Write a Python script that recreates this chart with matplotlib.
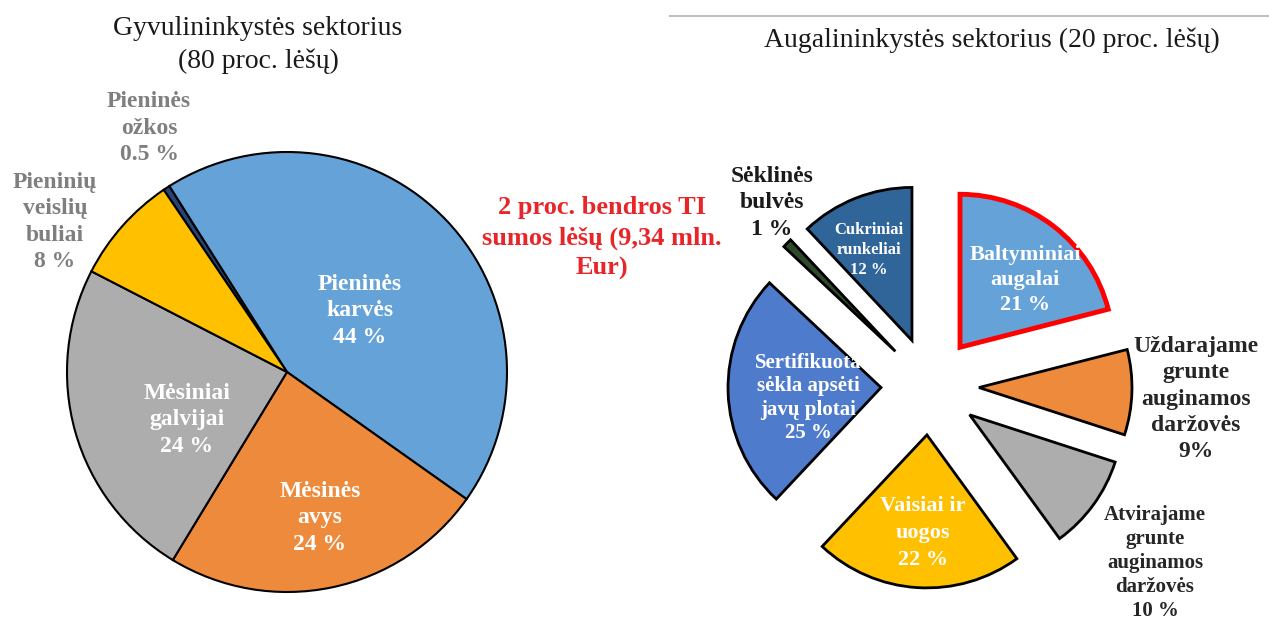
import matplotlib
matplotlib.use("Agg")
import matplotlib.pyplot as plt

# Left pie: livestock sector (80 % of funds)
live_names = ["Pieninės\nožkos", "Pieninės\nkarvės", "Mėsinės\navys",
              "Mėsiniai\ngalvijai", "Pieninių\nveislių\nbuliai"]
live_values = [0.5, 44, 24, 24, 8]
live_colors = ["#264478", "#65A2D8", "#EE8A3C", "#ADADAD", "#FFC000"]

# Right pie: crop sector (20 % of funds)
crop_names = ["Baltyminiai\naugalai", "Uždarajame\ngrunte\nauginamos\ndaržovės",
              "Atvirajame\ngrunte\nauginamos\ndaržovės", "Vaisiai ir\nuogos",
              "Sertifikuota\nsėkla apsėti\njavų plotai", "Sėklinės\nbulvės",
              "Cukriniai\nrunkeliai"]
crop_values = [21, 9, 10, 22, 25, 1, 12]
crop_colors = ["#65A2D8", "#EE8A3C", "#ADADAD", "#FFC000", "#4E7BCB", "#2E4A2A", "#2F6599"]

W, H = 1269, 621
fig = plt.figure(figsize=(W / 100, H / 100), dpi=100)
ax = fig.add_axes([0, 0, 1, 1])
ax.axis("off")

plt.rcParams["font.family"] = ["Liberation Serif", "DejaVu Serif"]

def Y(y):
    # image row -> data y
    return H - y

# ---- left pie
wl, _ = ax.pie(live_values, center=(287, Y(372)), radius=220, startangle=124.1,
               counterclock=False, colors=live_colors,
               wedgeprops=dict(edgecolor="black", linewidth=1.5))

def pct(v, tight=False):
    return f"{v:g}%" if tight else f"{v:g} %"

# label layout (image coords): x, y, color, size, linespacing
live_lab = [(149, 128, "#7F7F7F", 17, 1.32),
            (360, 311, "white", 17, 1.34),
            (320, 518, "white", 17, 1.32),
            (187, 420, "white", 17, 1.34),
            (55, 222, "#7F7F7F", 17, 1.32)]
for name, v, (x, y, c, s, ls) in zip(live_names, live_values, live_lab):
    ax.text(x, Y(y), name + "\n" + pct(v), ha="center", va="center", color=c,
            fontsize=s, fontweight="bold", linespacing=ls, multialignment="center")

# ---- right pie (exploded)
explode = [49, 49, 49, 49, 49, 49, 49]
wr, _ = ax.pie(crop_values, center=(930, Y(386)), radius=153, startangle=90,
               counterclock=False, colors=crop_colors, explode=explode,
               wedgeprops=dict(edgecolor="black", linewidth=2))
wr[0].set_edgecolor("#FF0000")
wr[0].set_linewidth(3.5)

crop_lab = [(1025, 280, "white", 16, 1.33),
            (1196, 399, "#262626", 17, 1.32),
            (1155, 563, "#262626", 15, 1.27),
            (923, 533, "white", 16, 1.45),
            (808, 398, "white", 15, 1.24),
            (772, 203, "#1A1A1A", 17, 1.35),
            (869, 250, "white", 12, 1.3)]
for name, v, (x, y, c, s, ls) in zip(crop_names, crop_values, crop_lab):
    ax.text(x, Y(y), name + "\n" + pct(v, tight=name.startswith("Užd")),
            ha="center", va="center", color=c, fontsize=s, fontweight="bold",
            linespacing=ls, multialignment="center")

ax.set_xlim(0, W)
ax.set_ylim(0, H)
ax.set_aspect("equal")

# titles
ax.text(258, Y(45), "Gyvulininkystės sektorius\n(80 proc. lėšų)", ha="center",
        va="center", fontsize=20, color="#1A1A1A", linespacing=1.4)
ax.text(992, Y(40), "Augalininkystės sektorius (20 proc. lėšų)", ha="center",
        va="center", fontsize=20, color="#1A1A1A")
ax.plot([670, W], [Y(16), Y(16)], color="#BFBFBF", linewidth=1.5)

ax.text(602, Y(238), "2 proc. bendros TI\nsumos lėšų (9,34 mln.\nEur)", ha="center",
        va="center", fontsize=19, fontweight="bold", color="#E8262A", linespacing=1.38)

fig.savefig("out.png", dpi=100)
